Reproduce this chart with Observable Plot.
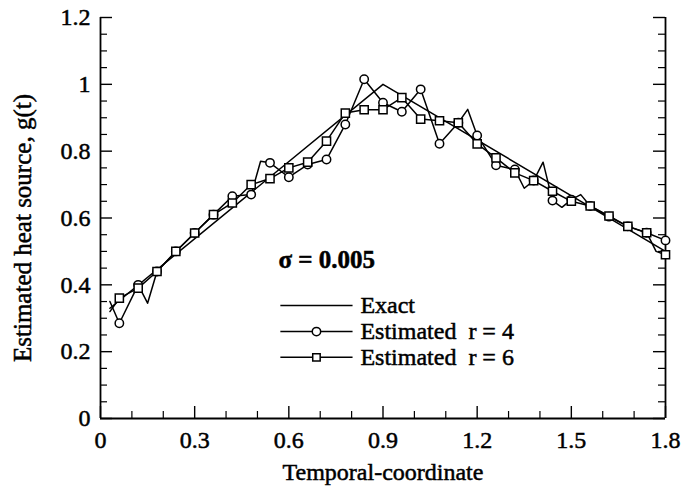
<!DOCTYPE html>
<html><head><meta charset="utf-8">
<script src="https://cdn.jsdelivr.net/npm/d3@7"></script>
<script src="https://cdn.jsdelivr.net/npm/@observablehq/plot@0.6"></script>
<style>
body{margin:0;background:#fff;}
#chart svg text{stroke:#000;stroke-width:0.5px;}
</style></head><body><div id="chart"></div>
<script>
// ---- data ----
const xTicks = [0, 0.3, 0.6, 0.9, 1.2, 1.5, 1.8];
const yTicks = [0, 0.2, 0.4, 0.6, 0.8, 1, 1.2];
const xMinor = [0.1, 0.2, 0.4, 0.5, 0.7, 0.8, 1.0, 1.1, 1.3, 1.4, 1.6, 1.7];
const yMinor = [0.05, 0.1, 0.15, 0.25, 0.3, 0.35, 0.45, 0.5, 0.55, 0.65, 0.7, 0.75, 0.85, 0.9, 0.95, 1.05, 1.1, 1.15];

const exactT = [0.03, 0.9, 1.8];
const exactG = [0.33, 1.0, 0.5];

const markT = [0.06, 0.12, 0.18, 0.24, 0.30, 0.36, 0.42, 0.48, 0.54, 0.60,
               0.66, 0.72, 0.78, 0.84, 0.90, 0.96, 1.02, 1.08, 1.14, 1.20,
               1.26, 1.32, 1.38, 1.44, 1.50, 1.56, 1.62, 1.68, 1.74, 1.80];
const r4G = [0.285, 0.40, 0.44, 0.50, 0.555, 0.61, 0.665, 0.67, 0.765, 0.722,
             0.76, 0.775, 0.88, 1.015, 0.945, 0.918, 0.985, 0.822, 0.885, 0.847,
             0.758, 0.745, 0.712, 0.652, 0.655, 0.636, 0.604, 0.575, 0.556, 0.533];
const r6G = [0.36, 0.39, 0.44, 0.50, 0.555, 0.61, 0.645, 0.70, 0.718, 0.75,
             0.767, 0.83, 0.914, 0.924, 0.924, 0.96, 0.896, 0.891, 0.885, 0.822,
             0.78, 0.735, 0.712, 0.68, 0.65, 0.636, 0.606, 0.575, 0.556, 0.49];
// unmarked intermediate vertices of the estimated curves
const r4ExtraT = [0.03, 0.15, 0.51, 1.17, 1.35, 1.41, 1.47, 1.53];
const r4ExtraG = [0.35, 0.345, 0.77, 0.925, 0.689, 0.767, 0.632, 0.67];
const r6ExtraT = [0.03, 1.77];
const r6ExtraG = [0.32, 0.50];

const legendLabels = ["Exact", "Estimated\u00a0\u00a0r = 4", "Estimated\u00a0\u00a0r = 6"];
const legendSymbols = [null, "circle", "square"];
const sigmaLabel = "\u03c3 = 0.005";
const xTitle = "Temporal-coordinate";
const yTitle = "Estimated heat source, g(t)";

// ---- layout ----
const W = 687, H = 494, mL = 100, mR = 22, mT = 17, mB = 76;
const pw = W - mL - mR, ph = H - mT - mB;
const FS = 24;
const legendLayout = {x1: 0.573, x2: 0.803, xText: 0.828, ys: [0.338, 0.260, 0.183], sigmaX: 0.567, sigmaY: 0.473};

const fmt = d => String(Math.round(d * 100) / 100);
const exact = exactT.map((t, i) => ({t, g: exactG[i]}));
const r4 = markT.map((t, i) => ({t, g: r4G[i]}));
const r6 = markT.map((t, i) => ({t, g: r6G[i]}));
const r4Line = r4.concat(r4ExtraT.map((t, i) => ({t, g: r4ExtraG[i]}))).sort((a, b) => a.t - b.t);
const r6Line = r6.concat(r6ExtraT.map((t, i) => ({t, g: r6ExtraG[i]}))).sort((a, b) => a.t - b.t);
const legend = legendLabels.map((label, i) => ({label, sym: legendSymbols[i], y: legendLayout.ys[i]}));

const chart = Plot.plot({
  width: W, height: H,
  marginLeft: mL, marginRight: mR, marginTop: mT, marginBottom: mB,
  style: {fontFamily: '"Liberation Serif", "DejaVu Serif", serif', fontSize: FS + "px", background: "white", color: "black"},
  x: {domain: [0, 1.8]},
  y: {domain: [0, 1.2]},
  marks: [
    Plot.ruleX([0, 1.8], {strokeWidth: 1.8}),
    Plot.ruleY([0], {strokeWidth: 1.8}),
    Plot.tickY(yTicks, {y: d => d, insetRight: pw - 12, strokeWidth: 1.4}),
    Plot.tickY(yMinor, {y: d => d, insetRight: pw - 7, strokeWidth: 1.2}),
    Plot.tickY(yTicks, {y: d => d, insetLeft: pw - 12, strokeWidth: 1.4}),
    Plot.tickY(yMinor, {y: d => d, insetLeft: pw - 7, strokeWidth: 1.2}),
    Plot.tickX(xTicks, {x: d => d, insetTop: ph - 12, strokeWidth: 1.4}),
    Plot.tickX(xMinor, {x: d => d, insetTop: ph - 7, strokeWidth: 1.2}),
    Plot.axisX({ticks: xTicks, tickSize: 0, tickPadding: 12, tickFormat: fmt, label: null, fontSize: FS}),
    Plot.axisY({ticks: yTicks, tickSize: 0, tickPadding: 10, tickFormat: fmt, label: null, fontSize: FS}),
    Plot.text([xTitle], {frameAnchor: "bottom", dy: 61, text: d => d, textAnchor: "middle", fontSize: FS}),
    Plot.text([yTitle], {frameAnchor: "left", dx: -78, dy: 10, rotate: -90, text: d => d, textAnchor: "middle", fontSize: 25}),
    Plot.line(exact, {x: "t", y: "g", stroke: "black", strokeWidth: 1.5}),
    Plot.line(r4Line, {x: "t", y: "g", stroke: "black", strokeWidth: 1.5}),
    Plot.line(r6Line, {x: "t", y: "g", stroke: "black", strokeWidth: 1.5}),
    Plot.dot(r4, {x: "t", y: "g", r: 4.2, symbol: "circle", stroke: "black", fill: "white", strokeWidth: 1.5}),
    Plot.dot(r6, {x: "t", y: "g", r: 4.6, symbol: "square", stroke: "black", fill: "white", strokeWidth: 1.5}),
    // legend
    Plot.text([sigmaLabel], {x: legendLayout.sigmaX, y: legendLayout.sigmaY, text: d => d, textAnchor: "start", fontSize: 25, fontWeight: "bold"}),
    Plot.link(legend, {x1: legendLayout.x1, x2: legendLayout.x2, y1: "y", y2: "y", stroke: "black", strokeWidth: 1.5}),
    Plot.dot(legend.filter(d => d.sym), {x: (legendLayout.x1 + legendLayout.x2) / 2, y: "y", symbol: "sym", r: 4.2, stroke: "black", fill: "white", strokeWidth: 1.5}),
    Plot.text(legend, {x: legendLayout.xText, y: "y", text: "label", textAnchor: "start", fontSize: FS})
  ]
});
document.getElementById("chart").appendChild(chart);
</script>
</body></html>
